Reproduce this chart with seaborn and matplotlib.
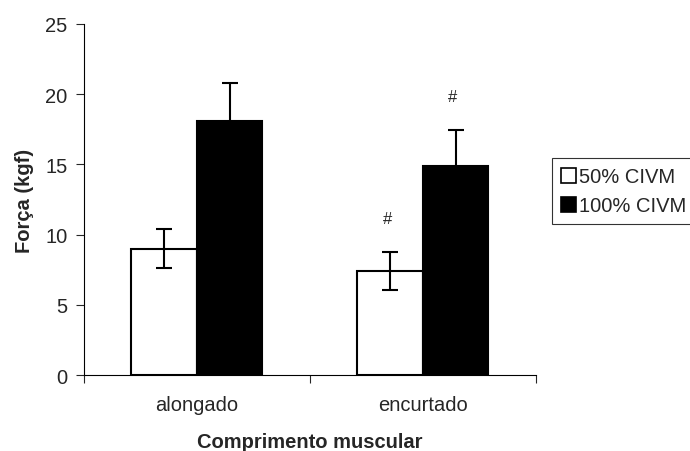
import matplotlib
matplotlib.use("Agg")
import matplotlib.pyplot as plt
import seaborn as sns
import pandas as pd

# data
comprimento = ["alongado", "encurtado"]
intensidade = ["50% CIVM", "100% CIVM"]
forca_50 = [9.0, 7.4]
forca_100 = [18.05, 14.85]
erro_50 = [1.4, 1.35]
erro_100 = [2.75, 2.6]
marcas = [("encurtado", "50% CIVM"), ("encurtado", "100% CIVM")]

df = pd.DataFrame({
    "comprimento": comprimento * 2,
    "intensidade": [intensidade[0]] * 2 + [intensidade[1]] * 2,
    "forca": forca_50 + forca_100,
    "erro": erro_50 + erro_100,
})

sns.set_style("white")
plt.rcParams["font.family"] = ["Liberation Sans", "DejaVu Sans"]
fs = 14.5

fig = plt.figure(figsize=(6.9, 4.52), dpi=100)
ax = fig.add_axes([0.1217, 0.168, 0.655, 0.777])

sns.barplot(data=df, x="comprimento", y="forca", hue="intensidade",
            hue_order=intensidade, order=comprimento,
            palette=["white", "black"], edgecolor="black", linewidth=1.5,
            width=0.58, gap=0, errorbar=None, ax=ax)

# error bars and # marks on top of the bars
for cont, nome in zip(ax.containers, intensidade):
    sub = df[df["intensidade"] == nome].set_index("comprimento").loc[comprimento]
    xs = [p.get_x() + p.get_width() / 2 for p in cont.patches]
    ax.errorbar(xs, sub["forca"], yerr=sub["erro"], fmt="none",
                ecolor="black", elinewidth=1.5, capsize=5.5, capthick=1.5)
    for x, (cat, f, e) in zip(xs, zip(comprimento, sub["forca"], sub["erro"])):
        if (cat, nome) in marcas:
            ax.text(x - 0.012, f + e + 2.4, "#", ha="center", va="center",
                    fontsize=12)

ax.set_ylim(0, 25)
ax.set_xlim(-0.5, 1.5)
ax.set_yticks([0, 5, 10, 15, 20, 25])
ax.set_xticks([-0.5, 0.5, 1.5], minor=True)
ax.tick_params(axis="x", which="major", length=0, labelsize=fs, pad=14)
ax.tick_params(axis="x", which="minor", length=6, direction="out", width=0.8)
ax.tick_params(axis="y", length=6, direction="out", width=0.8, labelsize=fs, pad=6)
ax.xaxis.set_ticks_position("bottom")
ax.yaxis.set_ticks_position("left")

for s in ["top", "right"]:
    ax.spines[s].set_visible(False)
for s in ["left", "bottom"]:
    ax.spines[s].set_color("black")
    ax.spines[s].set_linewidth(0.8)

ax.set_xlabel("Comprimento muscular", fontsize=fs, fontweight="bold", labelpad=13)
ax.set_ylabel("Força (kgf)", fontsize=fs, fontweight="bold", labelpad=8)

leg = ax.legend(loc="upper left", bbox_to_anchor=(0.8, 0.648),
                bbox_transform=fig.transFigure, frameon=True, fancybox=False,
                fontsize=fs, handlelength=0.75, handleheight=0.75,
                handletextpad=0.15, borderpad=0.45, labelspacing=0.5,
                borderaxespad=0)
leg.get_frame().set_edgecolor("black")
leg.get_frame().set_linewidth(0.8)
for h in leg.legend_handles:
    h.set_edgecolor("black")
    h.set_linewidth(1.2)

fig.savefig("out.png", dpi=100)
plt.close(fig)
